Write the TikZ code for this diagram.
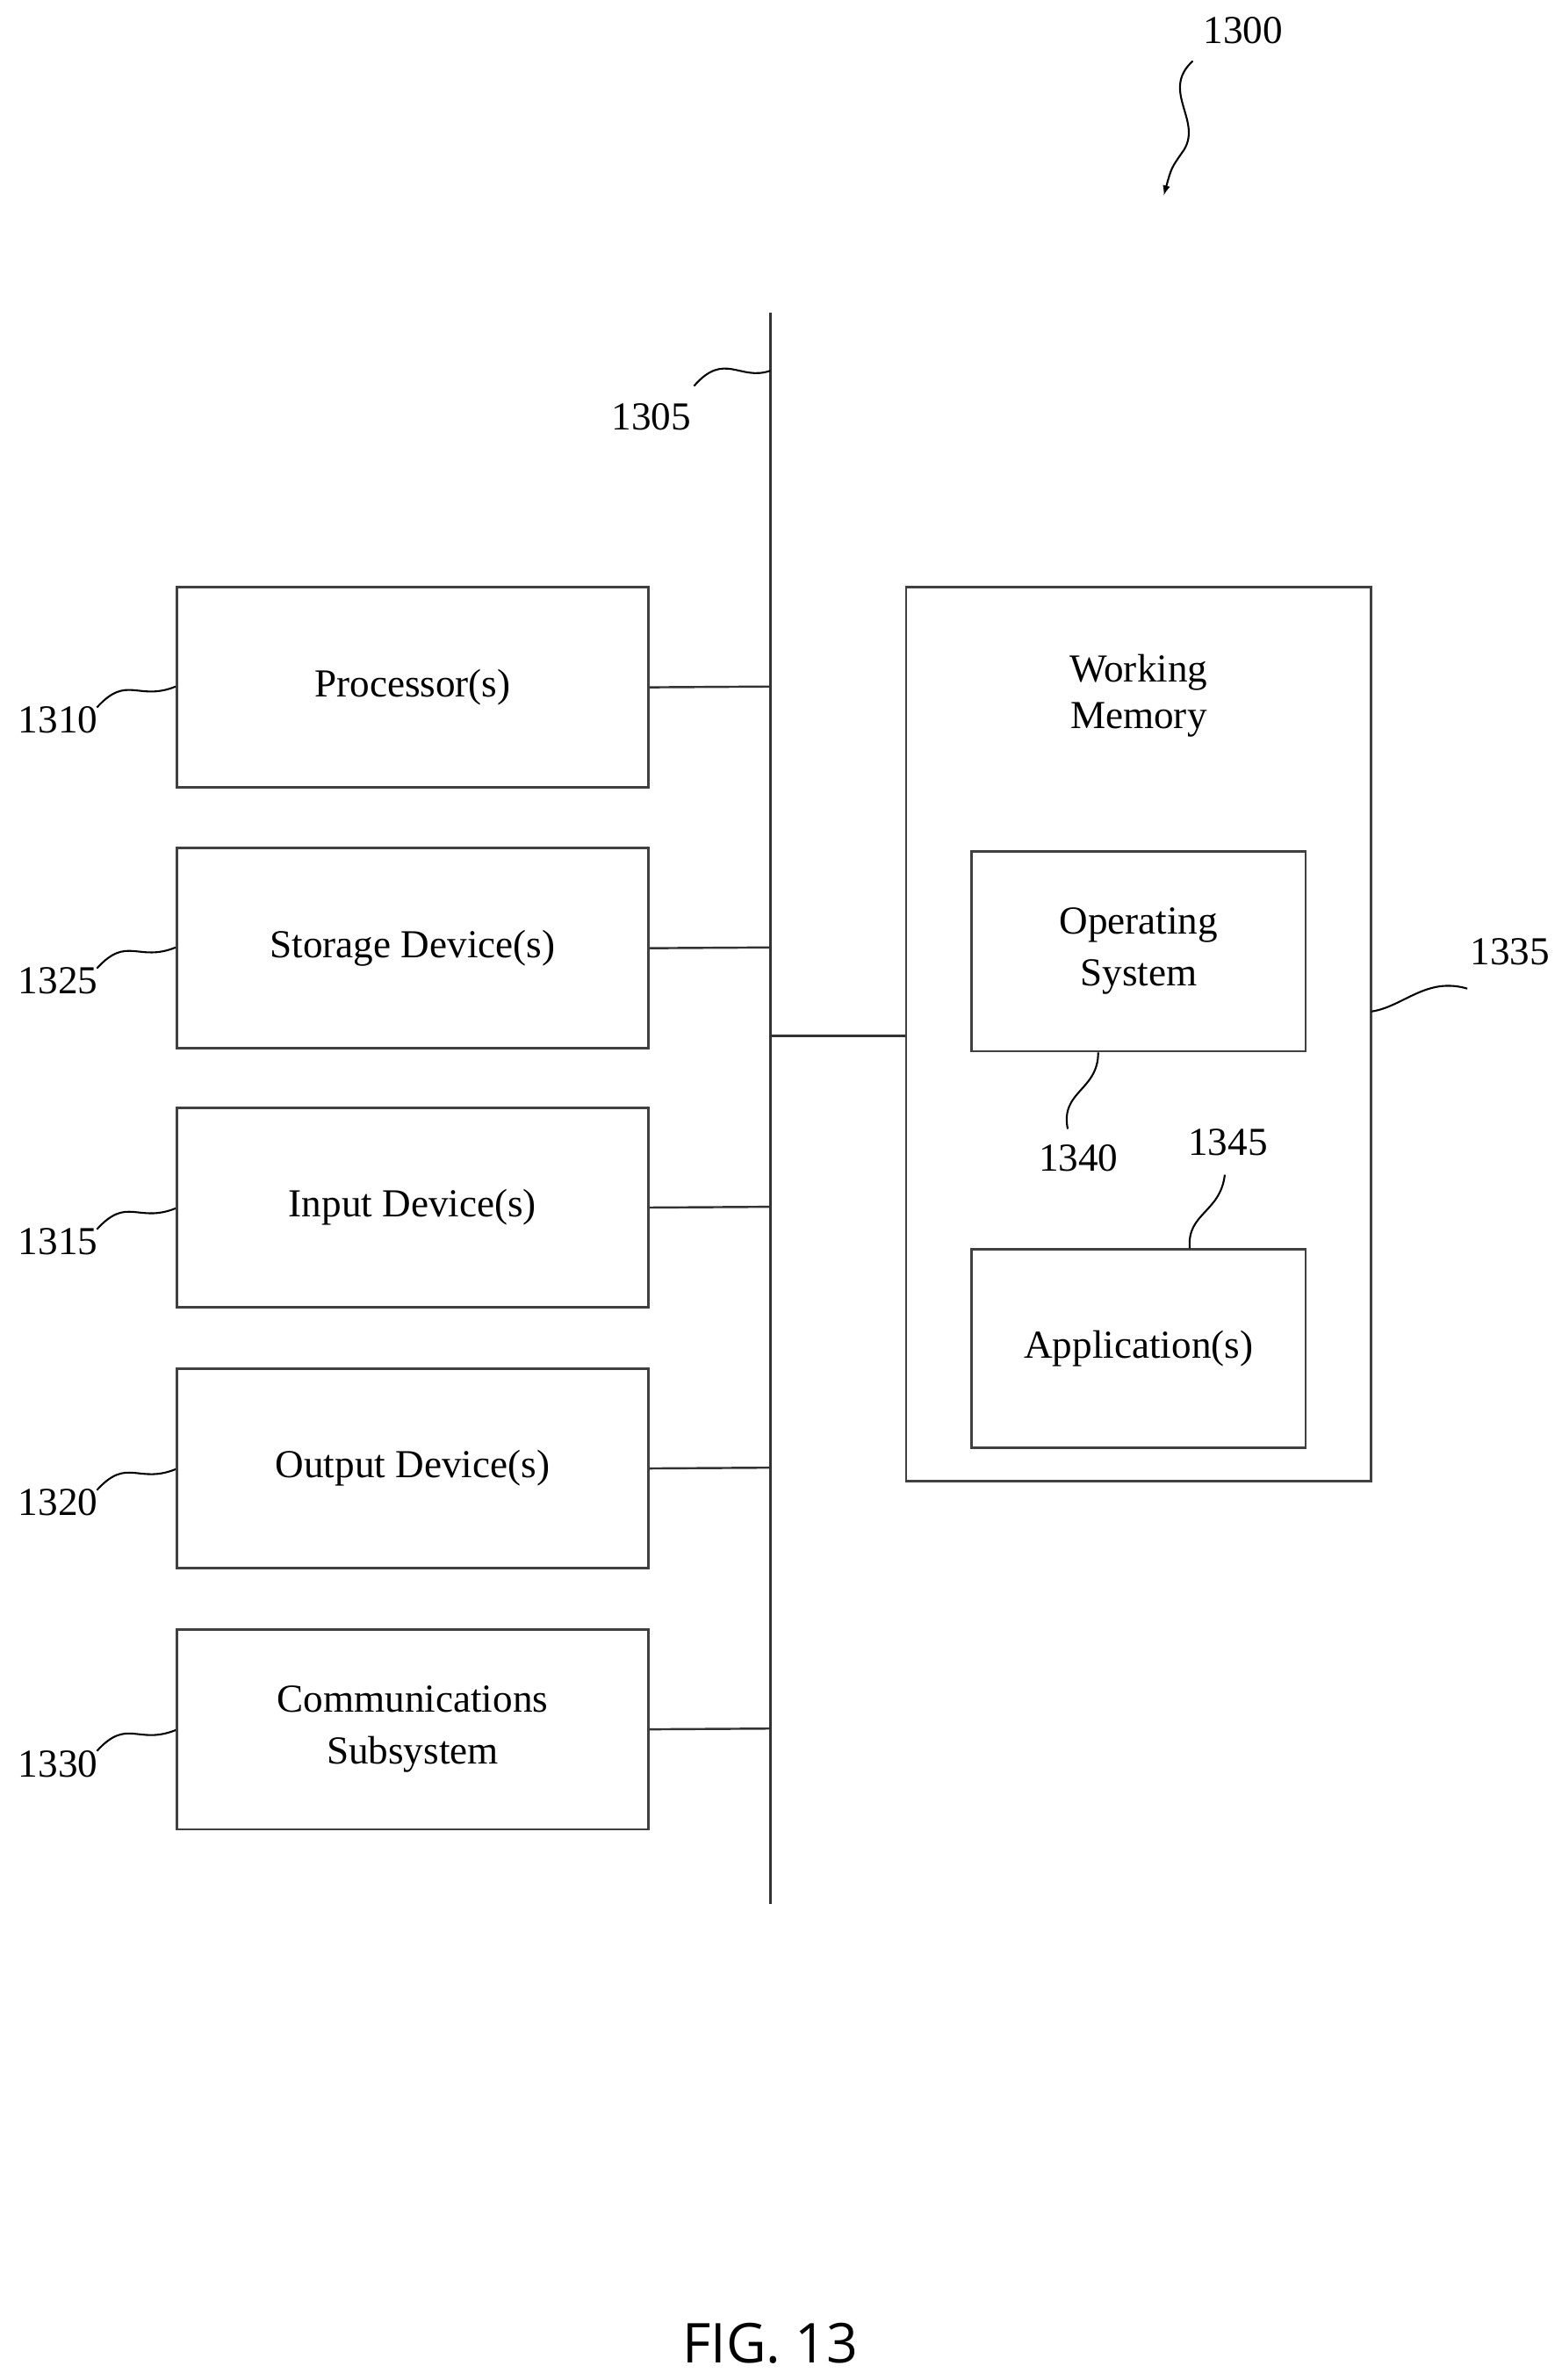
\documentclass[tikz,border=0pt]{standalone}
\usepackage{fontspec}
\setmainfont{Liberation Serif}
\newfontfamily\figfont{Open Sans}
\begin{document}
\begin{tikzpicture}[x=1pt,y=-1pt,
  box/.style={draw=black!75,line width=1.6pt,minimum width=309pt,minimum height=131pt,inner sep=0pt,align=center,font=\fontsize{26}{34}\selectfont},
  lbl/.style={font=\fontsize{26}{30}\selectfont},
  wire/.style={line width=1.4pt,black!80},
  lead/.style={line width=1.2pt}]
\useasboundingbox (0,0) rectangle (1024,1560);
\draw[wire] (505,205) coordinate (bt) -- (505,1248) coordinate (bb);
\node[box] (p) at (270.5,450.5) {Processor(s)};
\node[box] (s) at (270.5,621.5) {Storage Device(s)};
\node[box] (i) at (270.5,791.5) {Input Device(s)};
\node[box] (o) at (270.5,962.5) {Output Device(s)};
\node[box] (c) at (270.5,1133.5) {Communications\\Subsystem};
\foreach \n/\y in {p/450,s/621,i/791,o/962,c/1133}{
  \coordinate (b\n) at (505,\y);
  \draw[wire] (\n.east) -- (b\n);
}
\node[box,minimum width=305pt,minimum height=586pt] (wm) at (746.5,678) {};
\node[lbl,align=center] (wmt) at (746.5,456) {Working\\Memory};
\node[box,minimum width=219pt] (os) at (746.5,623.5) {Operating\\System};
\node[box,minimum width=219pt,minimum height=130pt] (ap) at (746.5,884) {Application(s)};
\coordinate (bw) at (505,679);
\draw[wire] (bw) -- (wm.west |- bw);
% labels
\foreach \n/\t/\y in {p/1310/472,s/1325/643,i/1315/814,o/1320/985,c/1330/1156}{
  \node[lbl] (l\t) at (38,\y) {\t};
  \draw[lead] (l\t.north east) ++(-4,4) .. controls +(20,-22) and +(-25,10) .. (\n.west |- 0,\y-22);
}
\node[lbl] (l1300) at (815,20) {1300};
\coordinate (a1300) at (763,128);
\draw[lead,-latex] (782,40) .. controls (760,60) and (790,80) .. (775,100) .. controls (768,110) .. (a1300);
\node[lbl] (l1305) at (427,273) {1305};
\coordinate (t1305) at (505,243);
\draw[lead] (455,253) .. controls (475,230) and (485,250) .. (t1305);
\node[lbl] (l1335) at (990,624) {1335};
\coordinate (t1335) at (899,663);
\draw[lead] (962,648) .. controls (935,640) and (920,660) .. (t1335);
\node[lbl] (l1340) at (707,759) {1340};
\draw[lead] (700,740) .. controls (695,715) and (720,715) .. (os.south -| 720,0);
\node[lbl] (l1345) at (805,749) {1345};
\draw[lead] (803,770) .. controls (800,795) and (778,795) .. (ap.north -| 780,0);
\node[font=\figfont\fontsize{36}{42}\selectfont] (fig) at (505,1536) {FIG. 13};
\end{tikzpicture}
\end{document}
